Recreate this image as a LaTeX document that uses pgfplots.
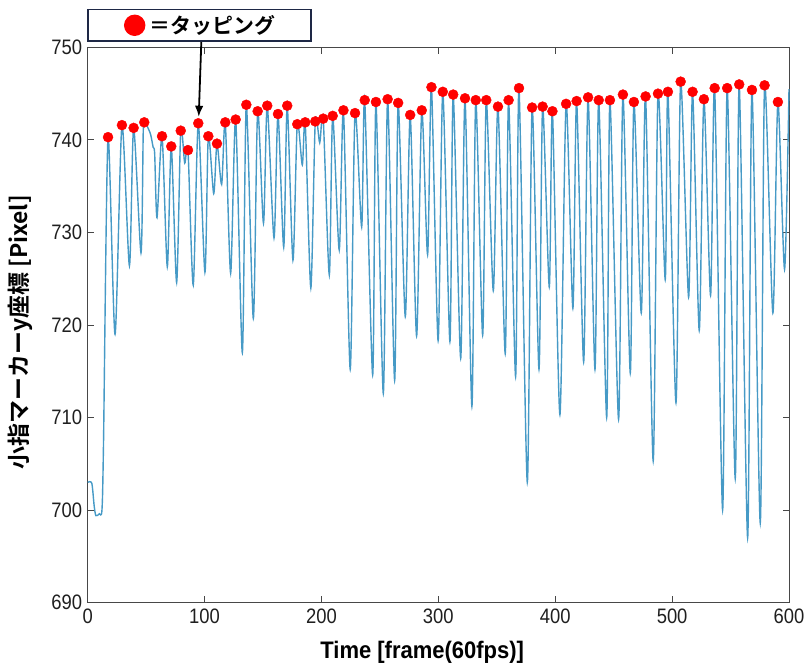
\documentclass[border=0pt]{standalone}
\usepackage{fontspec}
\usepackage{pgfplots}
\usepackage{pgfplotstable}
\pgfplotsset{compat=1.18}
\usetikzlibrary{arrows.meta}
\setmainfont{Liberation Sans}
\newfontfamily\tickfont{Liberation Sans}[FakeStretch=0.88]
\newfontfamily\labfont{Liberation Sans}[FakeStretch=0.92]
\newfontfamily\jpfont{Noto Sans CJK JP Bold}

\definecolor{traceblue}{RGB}{70,154,198}
\definecolor{boxnavy}{RGB}{30,40,70}

% y coordinate of the finger marker over time
\pgfplotstableread{
f v
0 703.0
3.5 702.9
5.5 700.5
7 699.4
10 699.6
12.2 700.0
13.5 707.0
17.4 740.3
23.4 719.0
29.3 741.6
35.7 726.4
39.3 741.3
45.6 727.8
47.5 740.8
48.4 741.9
50.8 741.5
53.8 740.6
56 739.2
57.3 738.5
59.3 731.6
63.6 740.4
68.1 726.3
71.5 739.3
76.1 724.6
79.6 741.0
83 737.5
85.8 738.9
90.3 724.3
94.6 741.8
100.3 725.7
103.2 740.4
107.8 734.2
110.6 739.6
114.6 735.2
117.7 741.9
122.3 725.6
126.6 742.2
132.3 717.0
135.7 743.8
141.7 720.7
145.4 743.1
150.4 731.0
153.6 743.7
159.4 729.4
162.8 742.8
167.7 728.4
170.7 743.7
175.6 727.0
179.3 741.7
183.6 737.3
186.1 741.9
190.9 724.0
194.7 742.0
198.5 739.7
201.5 742.3
206.7 725.4
209.6 742.6
215.2 728.1
218.8 743.2
224.6 715.2
228.7 742.9
234.4 730.6
237.0 744.3
243.8 714.6
246.6 744.1
252.9 712.6
256.6 744.4
262.6 714.0
265.6 744.0
271.7 720.9
275.9 742.7
281.4 718.8
285.8 743.2
290.8 727.6
294.1 745.7
299.8 718.3
303.8 745.2
309.9 718.2
312.7 744.9
319.1 716.4
322.8 744.5
328.7 711.2
332.0 744.3
337.9 718.9
341.0 744.3
347.0 723.7
351.0 743.6
357.2 716.9
360.1 744.3
366.1 714.4
369.0 745.6
376.1 703.0
380.2 743.5
386.1 715.2
389.2 743.6
394.9 724.1
397.6 743.1
404.0 710.3
409.3 743.9
415.1 721.8
418.3 744.2
424.3 716.0
428.1 744.6
434.0 715.2
437.2 744.3
444.0 710.0
446.8 744.3
454.2 709.8
457.9 744.9
464.2 714.8
467.3 744.1
473.6 721.3
477.3 744.7
483.8 705.3
487.9 745.0
494.1 724.9
496.4 745.2
503.3 711.6
507.3 746.3
514.1 723.0
517.5 745.2
523.2 719.4
527.2 744.4
532.9 723.2
536.4 745.6
543.2 700.0
547.1 745.6
554.0 703.4
557.4 746.0
564.6 697.0
568.3 745.4
575.4 698.6
579.1 745.9
586.2 721.3
590.5 744.1
596.2 726.0
600 745.5
}\trace

% detected taps (local maxima)
\pgfplotstableread{
f v
17.4 740.3
29.3 741.6
39.3 741.3
48.4 741.9
63.6 740.4
71.5 739.3
79.6 741.0
85.8 738.9
94.6 741.8
103.2 740.4
110.6 739.6
117.7 741.9
126.6 742.2
135.7 743.8
145.4 743.1
153.6 743.7
162.8 742.8
170.7 743.7
179.3 741.7
186.1 741.9
194.7 742.0
201.5 742.3
209.6 742.6
218.8 743.2
228.7 742.9
237.0 744.3
246.6 744.1
256.6 744.4
265.6 744.0
275.9 742.7
285.8 743.2
294.1 745.7
303.8 745.2
312.7 744.9
322.8 744.5
332.0 744.3
341.0 744.3
351.0 743.6
360.1 744.3
369.0 745.6
380.2 743.5
389.2 743.6
397.6 743.1
409.3 743.9
418.3 744.2
428.1 744.6
437.2 744.3
446.8 744.3
457.9 744.9
467.3 744.1
477.3 744.7
487.9 745.0
496.4 745.2
507.3 746.3
517.5 745.2
527.2 744.4
536.4 745.6
547.1 745.6
557.4 746.0
568.3 745.4
579.1 745.9
590.5 744.1
}\taps

\begin{document}
\begin{tikzpicture}
\begin{axis}[
  name=ax,
  scale only axis,
  width=701.3bp, height=555.2bp,
  xmin=0, xmax=600, ymin=690, ymax=750,
  xtick={0,100,...,600},
  ytick={690,700,...,750},
  tick align=inside,
  xtick pos=both, ytick pos=both,
  major tick length=6.5bp,
  axis line style={draw=black!72, line width=0.9bp},
  every tick/.style={draw=black!72, line width=0.9bp},
  /pgf/number format/assume math mode=true,
  tick label style={font=\tickfont\fontsize{21}{24}\selectfont, text=black!88},
  xticklabel style={yshift=-3bp},
  yticklabel style={xshift=-2bp},
  clip=false,
  xlabel={Time [frame(60fps)]},
  ylabel={小指マーカーy座標 [Pixel]},
  every axis x label/.style={at={(axis description cs:0.477,-0.089)}, anchor=center,
    font=\labfont\bfseries\fontsize{24}{28}\selectfont},
  every axis y label/.style={at={(axis description cs:-0.0965,0.487)}, anchor=center,
    rotate=90, font=\jpfont\fontsize{23}{27}\selectfont},
  legend style={at={(axis description cs:0,1)}, anchor=south west,
    xshift=-0.4bp, yshift=5.7bp,
    draw=boxnavy, line width=1.4bp,
    inner xsep=36bp, inner ysep=5bp,
    nodes={inner sep=0pt},
    column sep=4bp,
    font=\jpfont\fontsize{21}{25}\selectfont},
  legend cell align=left,
]
\addplot[traceblue, line width=1.4bp, smooth, tension=0.45, forget plot]
  table[x=f, y=v] {\trace};
\addplot[only marks, mark=*, mark size=5bp,
  mark options={fill=red, draw=red},
  legend image code/.code={\fill[red] (10bp,0bp) circle (10bp);}]
  table[x=f, y=v] {\taps};
\addlegendentry{＝タッピング}
\draw[-{Latex[length=11bp,width=8.5bp]}, line width=1.8bp, black]
  (axis cs:97.2,750.6) -- (axis cs:95.0,742.5);
\end{axis}
\pgfresetboundingbox
\path[use as bounding box] ([shift={(-87.7bp,-66.4bp)}]ax.south west)
  rectangle ([shift={(18bp,47.4bp)}]ax.north east);
\end{tikzpicture}
\end{document}
